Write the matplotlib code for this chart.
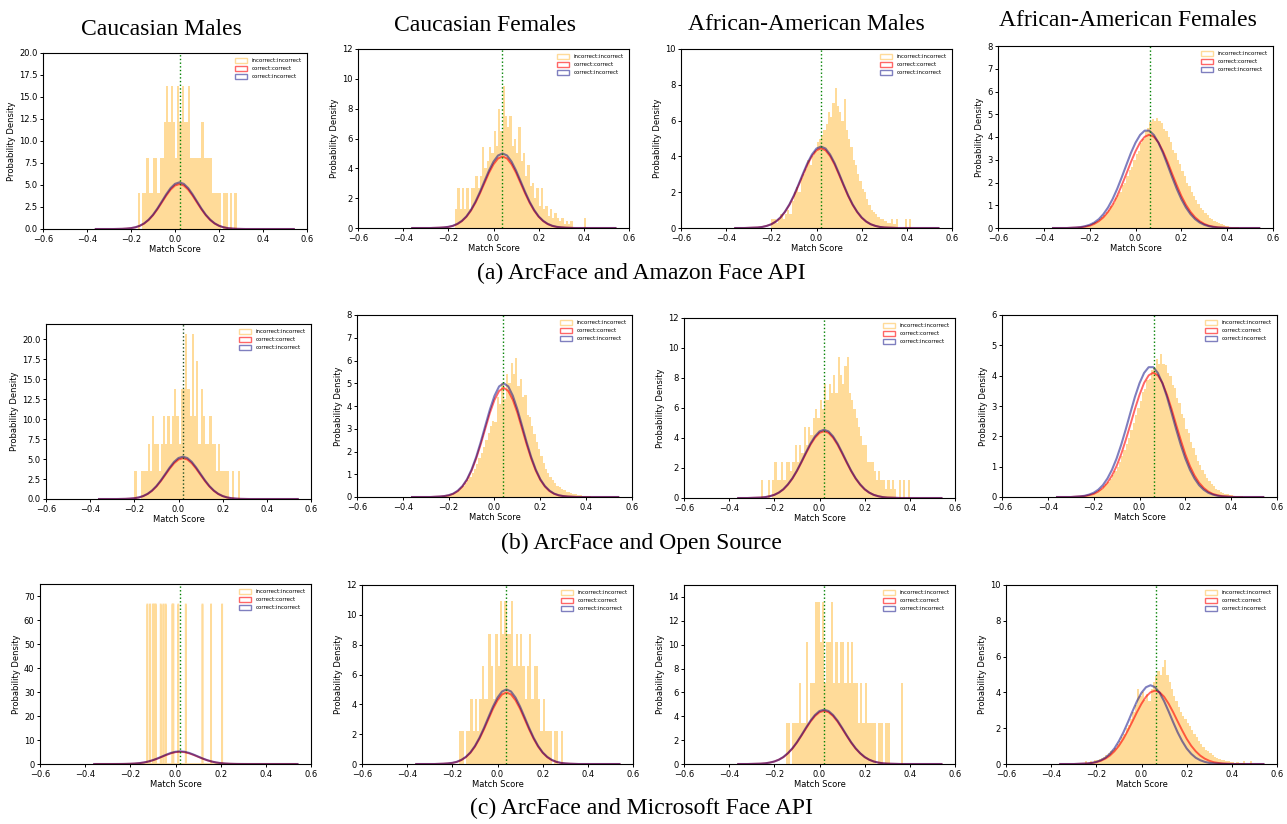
import numpy as np
import matplotlib.pyplot as plt
from matplotlib.patches import Patch

columns = ['Caucasian Males', 'Caucasian Females', 'African-American Males', 'African-American Females']
captions = ['(a) ArcFace and Amazon Face API', '(b) ArcFace and Open Source', '(c) ArcFace and Microsoft Face API']
labels = ['incorrect:incorrect', 'correct:correct', 'correct:incorrect']
thresholds = [0.022, 0.039, 0.021, 0.065]
ymax = [[20, 12, 10, 8], [21.9, 8, 12, 6], [75.2, 12, 15, 10]]

# correct:correct / correct:incorrect densities, sampled every 0.02 from -0.36 to 0.54
curve_x = np.round(np.arange(-0.36, 0.5401, 0.02), 2)

red_cm = [0, 0, 0, 0, 0, 0.01, 0.02, 0.05, 0.10, 0.19, 0.36, 0.62, 1.02, 1.56, 2.24, 3.01, 3.79, 4.47, 4.94,
          5.10,
          4.94, 4.47, 3.79, 3.01, 2.24, 1.56, 1.02, 0.62, 0.36, 0.19, 0.10, 0.05, 0.02, 0.01,
          0, 0, 0, 0, 0, 0, 0, 0, 0, 0, 0, 0]
blue_cm = [0, 0, 0, 0, 0, 0.01, 0.02, 0.05, 0.10, 0.20, 0.37, 0.65, 1.06, 1.62, 2.33, 3.13, 3.94, 4.65, 5.13,
           5.30,
           5.13, 4.65, 3.94, 3.13, 2.33, 1.62, 1.06, 0.65, 0.37, 0.20, 0.10, 0.05, 0.02, 0.01,
           0, 0, 0, 0, 0, 0, 0, 0, 0, 0, 0, 0]
red_cf = [0, 0, 0, 0, 0, 0.01, 0.02, 0.04, 0.07, 0.14, 0.26, 0.46, 0.75, 1.16, 1.69, 2.32, 3.01, 3.70, 4.27, 4.66,
          4.80,
          4.66, 4.27, 3.70, 3.01, 2.32, 1.69, 1.16, 0.75, 0.46, 0.26, 0.14, 0.07, 0.04, 0.02, 0.01,
          0, 0, 0, 0, 0, 0, 0, 0, 0, 0]
blue_cf = [0, 0, 0, 0, 0, 0.01, 0.02, 0.04, 0.08, 0.15, 0.28, 0.48, 0.78, 1.21, 1.76, 2.42, 3.14, 3.85, 4.45, 4.86,
           5.00,
           4.86, 4.45, 3.85, 3.14, 2.42, 1.76, 1.21, 0.78, 0.48, 0.28, 0.15, 0.08, 0.04, 0.02, 0.01,
           0, 0, 0, 0, 0, 0, 0, 0, 0, 0]
red_aam = [0, 0, 0, 0.01, 0.02, 0.03, 0.06, 0.12, 0.21, 0.36, 0.57, 0.89, 1.29, 1.79, 2.37, 2.97, 3.55, 4.02, 4.34,
           4.45,
           4.34, 4.02, 3.55, 2.97, 2.37, 1.79, 1.29, 0.89, 0.57, 0.36, 0.21, 0.12, 0.06, 0.03, 0.02, 0.01,
           0, 0, 0, 0, 0, 0, 0, 0, 0, 0]
blue_aam = [0, 0, 0, 0.01, 0.02, 0.03, 0.06, 0.12, 0.21, 0.36, 0.59, 0.91, 1.32, 1.83, 2.42, 3.04, 3.63, 4.11, 4.44,
            4.55,
            4.44, 4.11, 3.63, 3.04, 2.42, 1.83, 1.32, 0.91, 0.59, 0.36, 0.21, 0.12, 0.06, 0.03, 0.02, 0.01,
            0, 0, 0, 0, 0, 0, 0, 0, 0, 0]
red_aaf = [0, 0, 0, 0, 0.01, 0.02, 0.03, 0.06, 0.10, 0.18, 0.30, 0.47, 0.71, 1.02, 1.41, 1.88, 2.38, 2.90, 3.37, 3.76, 4.01,
           4.10,
           4.01, 3.76, 3.37, 2.90, 2.38, 1.88, 1.41, 1.02, 0.71, 0.47, 0.30, 0.18, 0.10, 0.06, 0.03, 0.02, 0.01,
           0, 0, 0, 0, 0, 0, 0]
blue_aaf = [0, 0, 0, 0, 0.01, 0.02, 0.04, 0.08, 0.14, 0.24, 0.39, 0.61, 0.90, 1.27, 1.72, 2.23, 2.77, 3.30, 3.75, 4.09, 4.28,
            4.28, 4.09, 3.75, 3.30, 2.77, 2.23, 1.72, 1.27, 0.90, 0.61, 0.39, 0.24, 0.14, 0.08, 0.04, 0.02, 0.01,
            0, 0, 0, 0, 0, 0, 0, 0]
blue_aaf_ms = [0, 0, 0, 0, 0.01, 0.02, 0.03, 0.06, 0.12, 0.21, 0.35, 0.57, 0.87, 1.28, 1.77, 2.34, 2.94, 3.51, 3.98, 4.29,
               4.40,
               4.29, 3.98, 3.51, 2.94, 2.34, 1.77, 1.28, 0.87, 0.57, 0.35, 0.21, 0.12, 0.06, 0.03, 0.02, 0.01,
               0, 0, 0, 0, 0, 0, 0, 0, 0]

# incorrect:incorrect densities in 0.01 bins, (first bin edge, heights)
ya_cm = (-0.17, [4.1, 0, 4.1, 4.1, 8.1, 4.1, 4.1, 8.1, 8.1, 4.1,
                 8.1, 8.1, 12.2, 16.2, 12.2, 16.2, 12.2, 8.1, 16.2, 12.2,
                 16.2, 12.2, 12.2, 16.2, 8.1, 8.1, 8.1, 8.1, 8.1, 12.2,
                 8.1, 8.1, 8.1, 8.1, 4.1, 4.1, 4.1, 4.1, 0, 4.1,
                 4.1, 0, 4.1, 0, 4.1])
ya_cf = (-0.17, [1.3, 2.7, 1.3, 2.7, 1.3, 2.7, 1.3, 2.7, 2.7, 3.5,
                 2.7, 3.5, 5.4, 4.0, 4.5, 5.4, 5.0, 6.5, 5.5, 8.0,
                 6.5, 9.5, 7.5, 6.8, 7.5, 5.5, 6.0, 5.0, 6.8, 4.5,
                 5.0, 3.5, 4.2, 2.8, 3.0, 2.0, 2.7, 1.5, 2.7, 1.3,
                 1.5, 0.8, 1.3, 0.7, 1.0, 0.7, 0.5, 0.7, 0.3, 0.5,
                 0.3, 0.5, 0, 0, 0, 0, 0, 0.7])
ya_aam = (-0.20, [0.5, 0.5, 0.3, 0.5, 0.8, 0.5, 0.8, 1.0, 0.8, 1.5,
                  2.0, 2.3, 2.0, 2.8, 3.0, 3.3, 3.8, 3.5, 4.0, 4.3,
                  4.8, 5.0, 5.2, 5.5, 5.8, 6.5, 6.2, 7.0, 7.8, 6.8,
                  6.5, 6.0, 7.2, 5.5, 5.0, 4.5, 3.8, 3.5, 3.0, 2.6,
                  2.2, 2.0, 1.6, 1.3, 1.0, 0.9, 0.8, 0.6, 0.5, 0.5,
                  0.4, 0.3, 0.3, 0.5, 0.2, 0.5, 0, 0, 0, 0.5,
                  0, 0.5])
ya_aaf = (-0.26, [0.02, 0.03, 0.05, 0.06, 0.08, 0.12, 0.15, 0.2, 0.25, 0.32,
                  0.4, 0.5, 0.55, 0.7, 0.8, 0.95, 1.1, 1.3, 1.45, 1.6,
                  1.9, 2.0, 2.3, 2.55, 2.7, 3.0, 3.25, 3.4, 3.75, 3.9,
                  4.25, 4.4, 4.65, 4.8, 4.7, 4.85, 4.7, 4.6, 4.35, 4.25,
                  4.0, 3.8, 3.45, 3.3, 3.0, 2.8, 2.5, 2.3, 2.0, 1.85,
                  1.6, 1.4, 1.25, 1.05, 0.9, 0.8, 0.66, 0.55, 0.46, 0.38,
                  0.31, 0.25, 0.2, 0.16, 0.13, 0.1, 0.08, 0.06, 0.05, 0.04,
                  0.03, 0.02, 0.02, 0.01])
yb_cm = (-0.20, [3.45, 0, 0, 3.45, 3.45, 3.45, 6.9, 3.45, 10.35, 6.9,
                 6.9, 3.45, 6.9, 10.35, 6.9, 10.35, 6.9, 10.35, 13.8, 10.35,
                 6.9, 13.8, 13.8, 20.7, 13.8, 10.35, 20.7, 10.35, 17.25, 6.9,
                 13.8, 10.35, 6.9, 6.9, 10.35, 6.9, 6.9, 3.45, 6.9, 3.45,
                 3.45, 3.45, 3.45, 0, 3.45, 0, 0, 3.45])
yb_cf = (-0.24, [0.02, 0.03, 0.05, 0.07, 0.1, 0.14, 0.18, 0.24, 0.3, 0.4,
                 0.5, 0.62, 0.75, 0.88, 1.05, 1.25, 1.45, 1.7, 1.95, 2.2,
                 2.5, 2.8, 3.1, 3.35, 3.3, 4.4, 4.1, 5.0, 4.3, 5.4,
                 5.0, 5.9, 5.4, 6.1, 4.9, 5.2, 4.4, 4.5, 3.6, 3.5,
                 3.1, 2.75, 2.4, 2.1, 1.8, 1.5, 1.25, 1.05, 0.9, 0.75,
                 0.6, 0.5, 0.42, 0.35, 0.3, 0.24, 0.2, 0.17, 0.14, 0.12,
                 0.1, 0.08, 0.06, 0.05, 0.04, 0.03, 0.02])
yb_aam = (-0.26, [1.2, 0, 0, 1.2, 0, 1.2, 2.4, 1.2, 1.2, 2.4,
                  1.2, 2.4, 2.4, 1.8, 2.4, 3.5, 2.4, 3.5, 3.0, 4.7,
                  3.5, 4.7, 4.2, 5.3, 5.9, 5.3, 6.5, 5.9, 7.6, 6.5,
                  7.6, 7.0, 8.2, 7.0, 9.4, 8.2, 7.6, 8.8, 9.4, 7.0,
                  6.5, 5.9, 5.3, 4.7, 4.1, 3.5, 3.5, 2.4, 2.4, 2.4,
                  1.8, 1.2, 1.8, 1.2, 1.2, 0.6, 1.2, 0.6, 1.2, 0.6,
                  0, 1.2, 0, 1.2, 0, 1.2])
yb_aaf = (-0.26, [0.02, 0.03, 0.04, 0.06, 0.08, 0.1, 0.13, 0.17, 0.22, 0.28,
                  0.35, 0.42, 0.5, 0.6, 0.72, 0.85, 1.0, 1.15, 1.35, 1.55,
                  1.75, 1.95, 2.2, 2.45, 2.7, 2.95, 3.15, 3.45, 3.55, 3.85,
                  3.9, 4.2, 4.25, 4.55, 4.4, 4.7, 4.4, 4.35, 4.1, 4.0,
                  3.7, 3.6, 3.25, 3.1, 2.75, 2.6, 2.25, 2.1, 1.8, 1.6,
                  1.4, 1.2, 1.05, 0.9, 0.75, 0.63, 0.52, 0.43, 0.35, 0.28,
                  0.22, 0.18, 0.14, 0.11, 0.09, 0.07, 0.05, 0.04, 0.03, 0.02,
                  0.02, 0.01])
# Microsoft / Caucasian Males has only single scores: one spike each
yc_cm_scores = [-0.124, -0.112, -0.100, -0.093, -0.087, -0.065, -0.053, -0.043,
                -0.013, -0.009, 0.013, 0.046, 0.120, 0.158, 0.207]
yc_cf = (-0.17, [2.18, 2.18, 0, 2.18, 2.18, 4.36, 2.18, 4.36, 2.18, 4.36,
                 6.54, 4.36, 4.36, 8.72, 6.54, 4.36, 8.72, 6.54, 10.9, 8.72,
                 10.9, 8.72, 8.72, 10.9, 6.54, 8.72, 6.54, 8.72, 6.54, 4.36,
                 6.54, 8.72, 4.36, 6.54, 6.54, 4.36, 2.18, 4.36, 2.18, 2.18,
                 2.18, 0, 2.18, 2.18, 0, 2.18])
yc_aam = (-0.15, [3.4, 3.4, 0, 3.4, 3.4, 3.4, 6.8, 3.4, 3.4, 10.2,
                  3.4, 6.8, 6.8, 13.6, 13.6, 10.2, 13.6, 6.8, 10.2, 10.2,
                  13.6, 6.8, 10.2, 6.8, 10.2, 10.2, 6.8, 10.2, 6.8, 10.2,
                  6.8, 6.8, 3.4, 6.8, 3.4, 6.8, 3.4, 3.4, 3.4, 3.4,
                  0, 3.4, 3.4, 0, 3.4, 3.4, 0, 0, 0, 0,
                  0, 6.8])
yc_aaf = (-0.25, [0.15, 0.05, 0.15, 0.1, 0.2, 0.2, 0.3, 0.35, 0.4, 0.5,
                  0.6, 0.7, 0.8, 0.9, 1.1, 1.3, 1.5, 1.7, 2.0, 2.2,
                  2.5, 2.9, 3.3, 4.2, 3.8, 4.0, 3.6, 3.9, 3.5, 4.2,
                  4.6, 4.9, 5.2, 5.0, 5.4, 5.8, 5.0, 4.6, 4.2, 3.8,
                  3.5, 3.2, 2.9, 2.7, 2.5, 2.3, 2.1, 1.9, 1.7, 1.5,
                  1.3, 1.1, 0.95, 0.8, 0.7, 0.6, 0.5, 0.4, 0.35, 0.3,
                  0.25, 0.2, 0.15, 0.15, 0.1, 0.1, 0.05, 0.1, 0.05, 0.05,
                  0.15, 0, 0, 0.15])

yellow = [[ya_cm, ya_cf, ya_aam, ya_aaf],
          [yb_cm, yb_cf, yb_aam, yb_aaf],
          [None, yc_cf, yc_aam, yc_aaf]]
reds = [red_cm, red_cf, red_aam, red_aaf]
blues = [[blue_cm, blue_cf, blue_aam, blue_aaf],
         [blue_cm, blue_cf, blue_aam, blue_aaf],
         [blue_cm, blue_cf, blue_aam, blue_aaf_ms]]

# axes boxes in pixels: left, top, right, bottom
W, H = 1287, 824
boxes = [[(43, 53, 307, 229), (358, 49, 629, 228), (681, 49, 952, 228), (998, 46, 1273, 228)],
         [(46, 324, 311, 499), (357, 315, 632, 497), (684, 318, 955, 498), (1002, 315, 1277, 497)],
         [(40, 584, 311, 764), (362, 585, 633, 764), (684, 585, 955, 764), (1006, 585, 1277, 764)]]

fig = plt.figure(figsize=(W / 100, H / 100), dpi=100)
handles = [Patch(facecolor='none', edgecolor='orange', alpha=0.4),
           Patch(facecolor='none', edgecolor='red', alpha=0.6),
           Patch(facecolor='none', edgecolor='navy', alpha=0.5)]

for r in range(3):
    for c in range(4):
        l, t, rr, b = boxes[r][c]
        ax = fig.add_axes([l / W, 1 - b / H, (rr - l) / W, (b - t) / H])
        if yellow[r][c] is None:
            ax.hist(yc_cm_scores, bins=np.arange(-0.355, 0.5355, 0.001), density=True,
                    histtype='step', color='orange', alpha=0.4, lw=1.2)
        else:
            start, h = yellow[r][c]
            edges = start + 0.01 * np.arange(len(h) + 1)
            ax.stairs(h, edges, fill=True, color='orange', alpha=0.4, lw=0)
        ax.plot(curve_x, reds[c], color='red', alpha=0.6, lw=1.4)
        ax.plot(curve_x, blues[r][c], color='navy', alpha=0.5, lw=1.5)
        vcol = '#1f4f1f' if (r == 1 and c == 0) else 'green'
        ax.axvline(thresholds[c], color=vcol, ls=':', lw=1.0)
        ax.set_xlim(-0.6, 0.6)
        ax.set_ylim(0, ymax[r][c])
        ax.set_xticks([-0.6, -0.4, -0.2, 0.0, 0.2, 0.4, 0.6])
        ax.tick_params(labelsize=6, length=2.5, width=0.7, pad=1.5)
        ax.set_xlabel('Match Score', fontsize=6, labelpad=1)
        ax.set_ylabel('Probability Density', fontsize=6, labelpad=2)
        ax.legend(handles, labels, loc='upper right', fontsize=4, frameon=False,
                  handlelength=2.2, handleheight=0.9, labelspacing=0.5)

title_x = [161, 485, 806, 1128]
title_base = [35, 31, 30, 26]
for c in range(4):
    fig.text(title_x[c] / W, 1 - title_base[c] / H, columns[c], ha='center', va='baseline',
             fontsize=17, family='Liberation Serif')

cap_y = [273, 543, 808]
for r in range(3):
    fig.text(641 / W, 1 - cap_y[r] / H, captions[r], ha='center', va='center',
             fontsize=17, family='Liberation Serif')

fig.savefig('out.png', dpi=100)
